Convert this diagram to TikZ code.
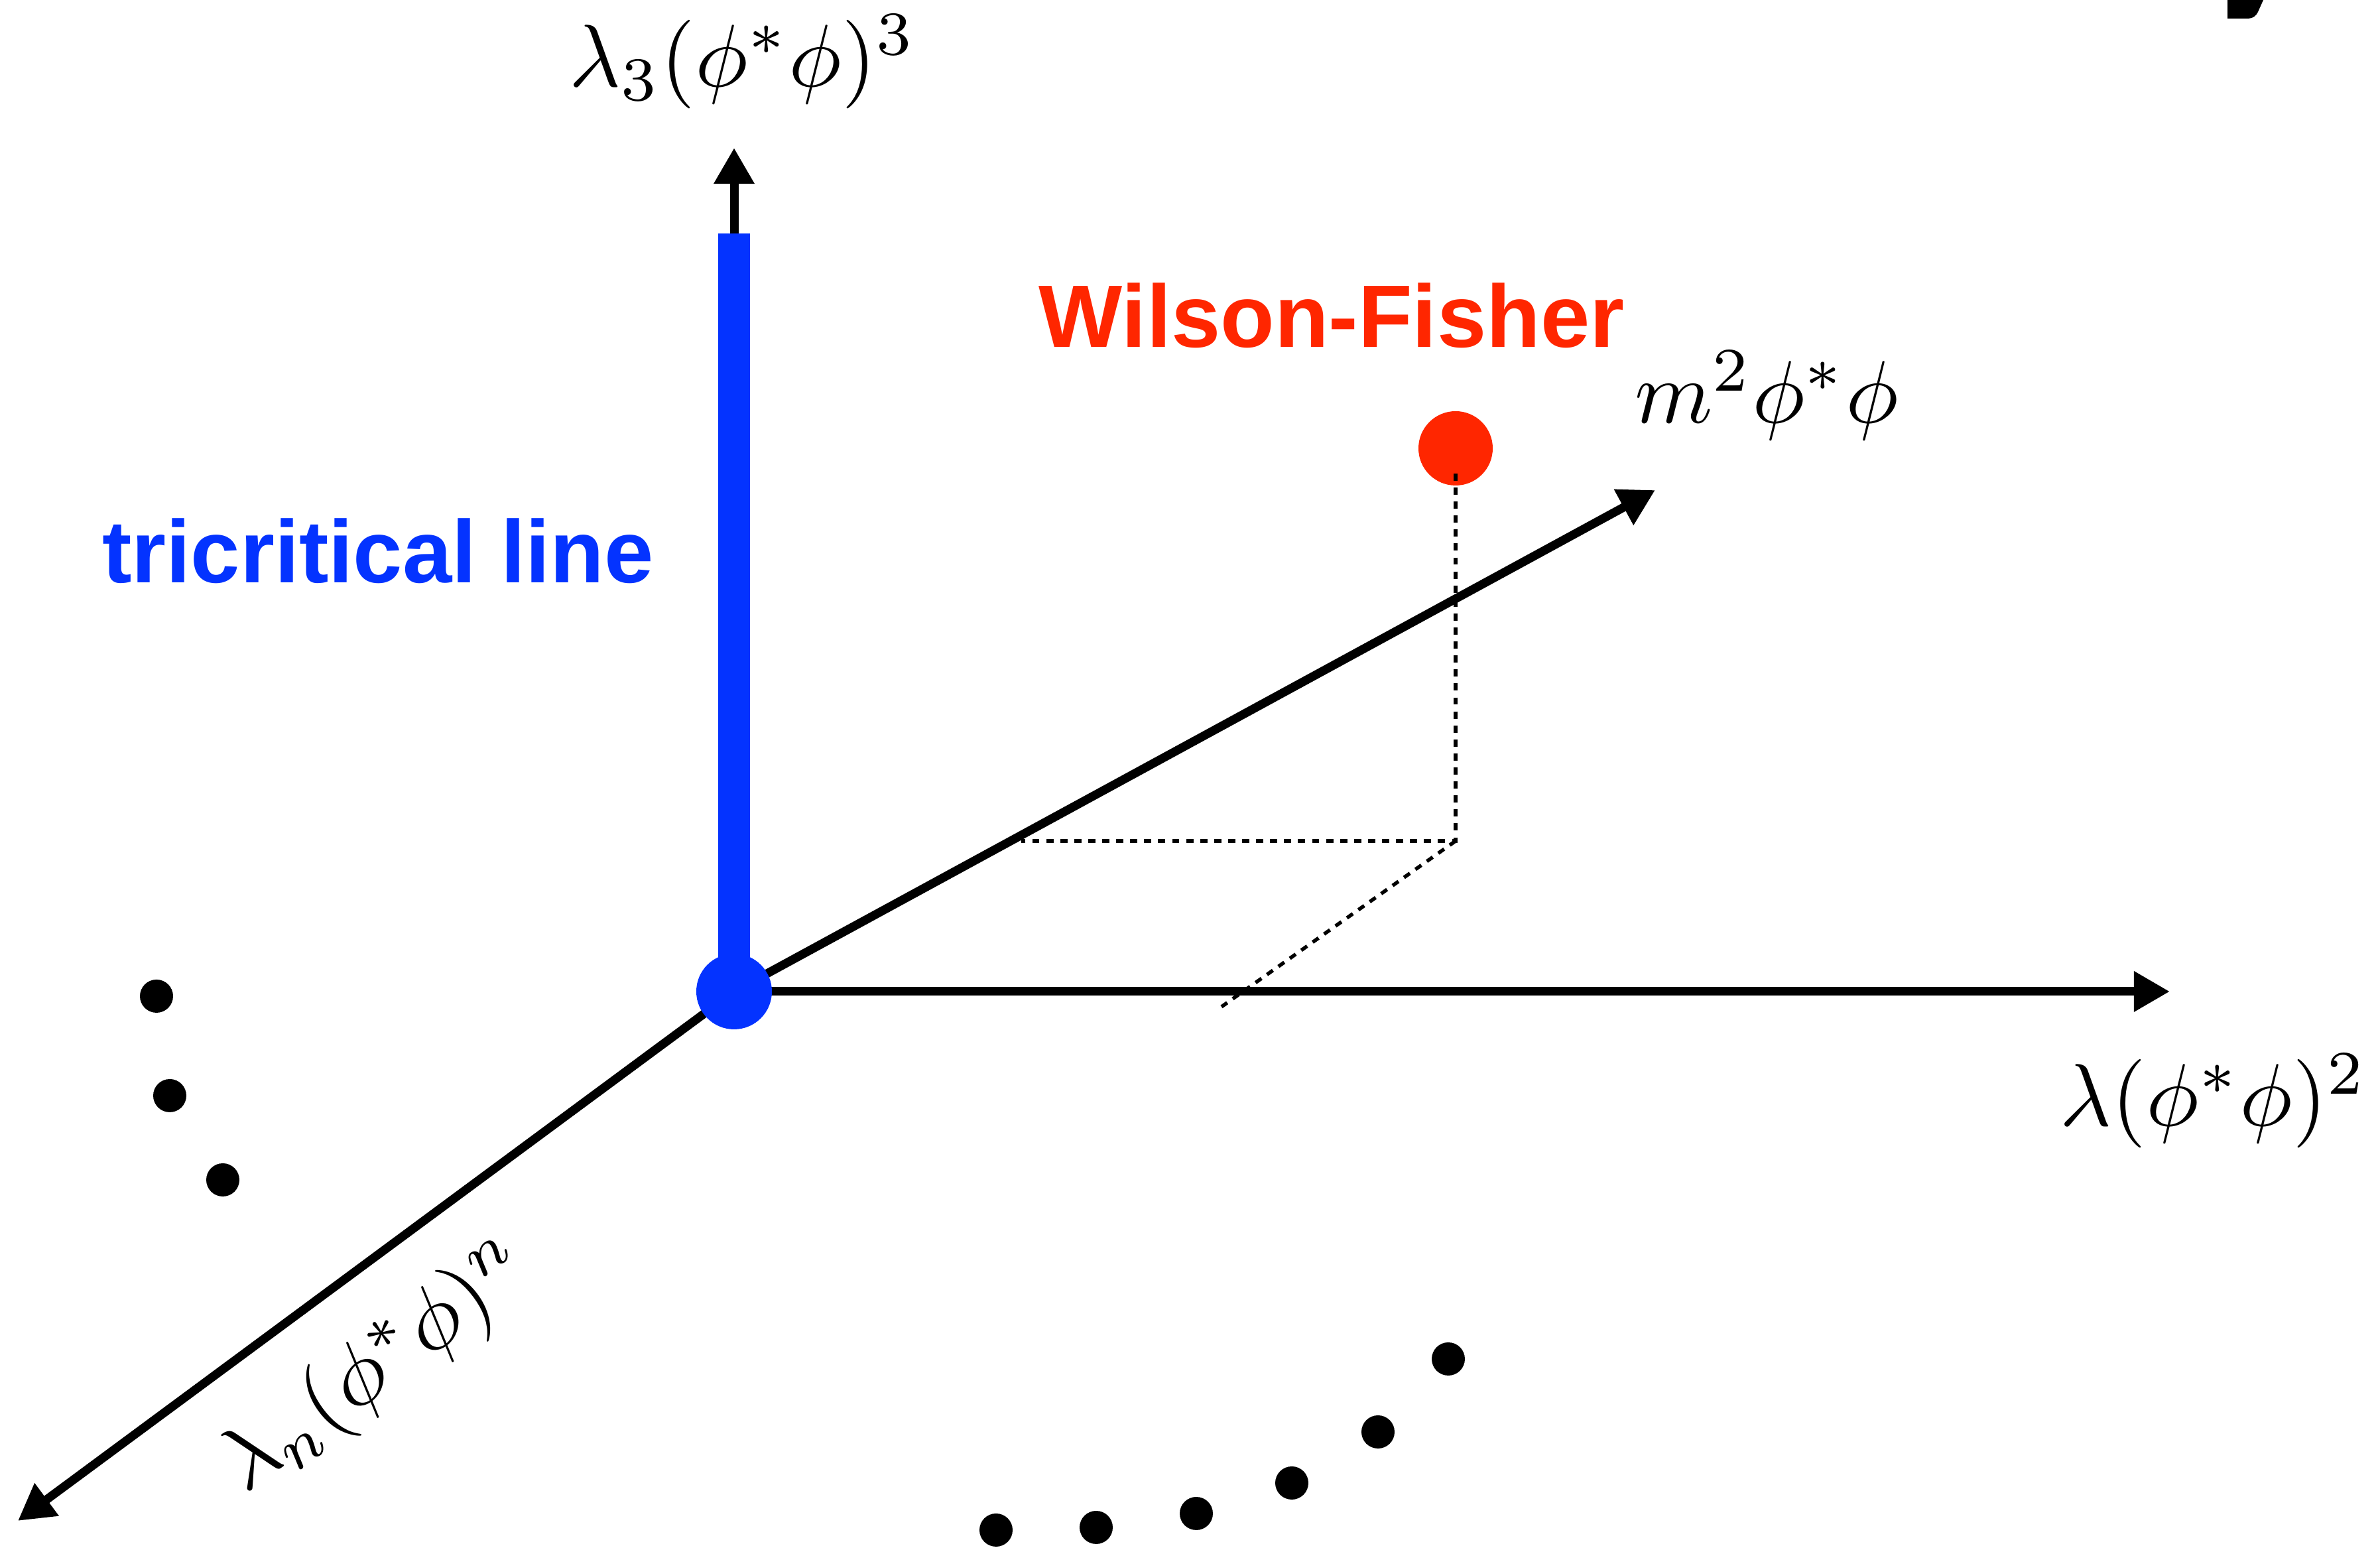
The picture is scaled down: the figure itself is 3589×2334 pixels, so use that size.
\RequirePackage{fix-cm}
\documentclass[tikz,border=0pt]{standalone}
\usepackage{fontspec}
\usetikzlibrary{arrows.meta}

\newfontfamily\labelfont{Liberation Sans}
\definecolor{tcblue}{RGB}{4,51,255}
\definecolor{wfred}{RGB}{255,38,0}
\newcommand{\axislabel}[1]{\scalebox{3.8}{$#1$}}

\tikzset{
	axisline/.style={line width=3.7pt, -{Triangle[length=15.4pt,width=16.5pt]}},
	projline/.style={line width=1.55pt, dash pattern=on 3.1pt off 2.9pt},
	lbl/.style={inner sep=0pt},
	namelbl/.style={font=\fontsize{38}{46}\selectfont\labelfont\bfseries, inner sep=0pt}
}

\begin{document}
\begin{tikzpicture}[x=0.01cm,y=0.01cm]
			\useasboundingbox (0,0) rectangle (3589,2334);
			% axes
			\coordinate (O) at (1107,839);
			\coordinate (up) at (1107,2111);
			\coordinate (bar) at (1107,1982);
			\coordinate (lam) at (3272,839);
			\coordinate (mass) at (2496,1595);
			\coordinate (lamn) at (27,41);
			\draw[axisline] (O) -- (up);
			\draw[axisline] (O) -- (lam);
			\draw[axisline] (O) -- (mass);
			\draw[axisline] (O) -- (lamn);
			% tricritical line
			\draw[tcblue, line width=13.7pt] (O) -- (bar);
			\fill[tcblue] (O) circle(57);
			% Wilson-Fisher point
			\coordinate (wf) at (2195,1658);
			\coordinate (wfstub) at (2195,1620);
			\coordinate (foot) at (2195,1066);
			\coordinate (onm) at (1540,1066);
			\coordinate (onl) at (1842,816);
			\fill[wfred] (wf) circle(56);
			\draw[projline] (wfstub) -- (foot) -- (onm);
			\draw[projline] (foot) -- (onl);
			% labels
			\node[lbl, anchor=base] (l3) at (1120,2203) {\axislabel{\lambda_3(\phi^*\phi)^3}};
			\node[lbl, anchor=base] (l2) at (3338,636) {\axislabel{\lambda(\phi^*\phi)^2}};
			\node[lbl, anchor=base] (m2) at (2664,1696) {\axislabel{m^2\phi^*\phi}};
			\node[lbl, rotate=36.5] (ln) at (570,271) {\axislabel{\lambda_n(\phi^*\phi)^n}};
			\node[namelbl, text=wfred, anchor=base] (wfname) at (2008,1810) {Wilson-Fisher};
			\node[namelbl, text=tcblue, anchor=base] (tcname) at (570,1455) {tricritical line};
			% dots
			\foreach \px/\py in {236/832, 256/682, 336/555}
				\fill (\px,\py) circle(25);
			\foreach \px/\py in {1502/27, 1653/31, 1804/52, 1948/98, 2078/175, 2184/285}
				\fill (\px,\py) circle(25);
			% cut glyph at the corner
			\fill (3359,2334) -- (3359,2306) -- (3388,2306) .. controls (3398,2306) and (3402,2310) .. (3405,2316) -- (3413,2334) -- cycle;
		\end{tikzpicture}
\end{document}
